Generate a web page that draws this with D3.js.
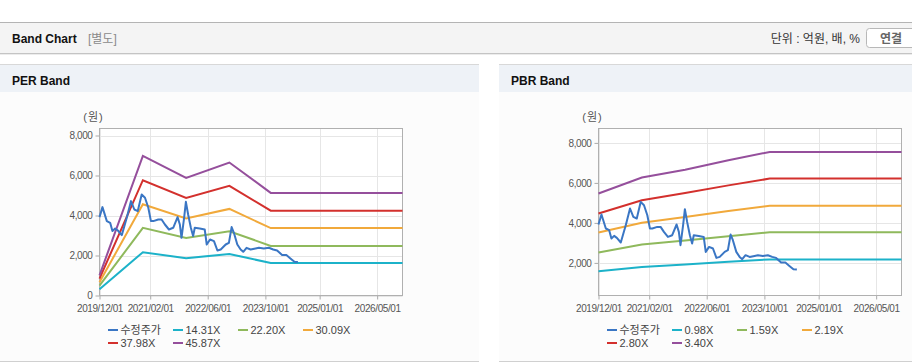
<!DOCTYPE html>
<html>
<head>
<meta charset="utf-8">
<script src="https://cdn.jsdelivr.net/npm/d3@7"></script>
<style>
body { margin: 0; background: #fff; }
svg { display: block; font-family: "Liberation Sans", "Noto Sans CJK KR", sans-serif; }
</style>
</head>
<body>
<svg width="912" height="364"></svg>
<script>
// x axis ticks shown on both charts
const xTicks = ['2019/12/01', '2021/02/01', '2022/06/01', '2023/10/01', '2025/01/01', '2026/05/01'];
const yTicksPer = [0, 2000, 4000, 6000, 8000];
const yTicksPbr = [2000, 4000, 6000, 8000];

// adjusted price (수정주가), same on both charts
const priceDates = ['2019/12/01', '2019/12/26', '2020/02/01', '2020/02/29', '2020/03/19', '2020/04/11', '2020/05/04',
  '2020/06/06', '2020/07/18', '2020/08/23', '2020/09/20', '2020/10/19', '2020/11/21', '2020/12/19', '2021/01/16',
  '2021/02/07', '2021/02/27', '2021/04/10', '2021/05/08', '2021/06/05', '2021/07/09', '2021/08/14', '2021/09/20',
  '2021/10/09', '2021/10/23', '2021/11/14', '2021/11/29', '2021/12/18', '2022/01/10', '2022/01/29', '2022/02/12',
  '2022/03/26', '2022/05/07', '2022/05/24', '2022/06/21', '2022/07/24', '2022/08/22', '2022/09/19', '2022/10/31',
  '2022/11/27', '2022/12/20', '2023/01/08', '2023/02/06', '2023/03/06', '2023/03/28', '2023/04/25', '2023/05/29',
  '2023/07/10', '2023/08/07', '2023/09/18', '2023/10/30', '2023/12/06', '2024/01/08', '2024/02/19', '2024/03/26',
  '2024/04/29', '2024/06/02', '2024/07/01'];
const priceValues = [3920, 4420, 3720, 3635, 3220, 3350, 3250,
  3020, 3885, 4720, 4300, 4220, 5050, 4885, 4385,
  3720, 3720, 3800, 3800, 3550, 3300, 3385, 3920,
  3550, 2885, 3885, 4685, 4050, 3385, 2970, 3385,
  3350, 3300, 2550, 2800, 2720, 2250, 2300, 2550,
  2635, 3420, 3135, 2550, 2300, 2185, 2385, 2300,
  2350, 2385, 2350, 2385, 2300, 2250, 2020, 2020,
  1850, 1685, 1670];

// PER bands
const perDates = ['2019/12/01', '2020/12/01', '2021/12/01', '2022/12/01', '2023/11/15', '2026/12/01'];
const perNames = ['14.31X', '22.20X', '30.09X', '37.98X', '45.87X'];
const per1431 = [315, 2165, 1865, 2080, 1620, 1620];
const per2220 = [490, 3380, 2880, 3215, 2480, 2480];
const per3009 = [660, 4565, 3850, 4330, 3370, 3370];
const per3798 = [840, 5765, 4880, 5480, 4240, 4240];
const per4587 = [1010, 6980, 5880, 6650, 5130, 5130];

// PBR bands
const pbrDates = ['2019/12/01', '2020/12/01', '2021/12/01', '2022/12/01', '2023/11/15', '2026/12/01'];
const pbrNames = ['0.98X', '1.59X', '2.19X', '2.80X', '3.40X'];
const pbr098 = [1585, 1800, 1920, 2057, 2175, 2175];
const pbr159 = [2520, 2920, 3115, 3337, 3530, 3530];
const pbr219 = [3520, 4010, 4290, 4596, 4860, 4860];
const pbr280 = [4470, 5130, 5490, 5876, 6215, 6215];
const pbr340 = [5470, 6270, 6660, 7135, 7550, 7550];

const colors = ['#3a76c4', '#1cb2c9', '#8fb95c', '#f1a93b', '#d3302d', '#954f9c'];

const parse = d3.timeParse('%Y/%m/%d');
const svg = d3.select('svg');

// top header
svg.append('rect').attr('x', 0).attr('y', 23).attr('width', 912).attr('height', 30).attr('fill', '#f4f4f4');
svg.append('line').attr('x1', 0).attr('x2', 912).attr('y1', 22.5).attr('y2', 22.5).attr('stroke', '#b4b4b4');
svg.append('line').attr('x1', 0).attr('x2', 912).attr('y1', 53.5).attr('y2', 53.5).attr('stroke', '#c4c4c4');
svg.append('line').attr('x1', 0).attr('x2', 912).attr('y1', 54.5).attr('y2', 54.5).attr('stroke', '#ececec');
svg.append('text').attr('x', 12).attr('y', 42.5).attr('font-size', 12).attr('font-weight', 'bold')
   .attr('fill', '#111').text('Band Chart');
svg.append('text').attr('x', 88).attr('y', 42.5).attr('font-size', 12).attr('fill', '#8a8a8a').text('[별도]');
svg.append('text').attr('x', 860).attr('y', 42.5).attr('font-size', 12).attr('fill', '#333')
   .attr('text-anchor', 'end').text('단위 : 억원, 배, %');
svg.append('rect').attr('x', 866.5).attr('y', 28.5).attr('width', 60).attr('height', 19).attr('rx', 3)
   .attr('fill', '#fff').attr('stroke', '#b8b8b8');
svg.append('text').attr('x', 891).attr('y', 42.5).attr('font-size', 12).attr('font-weight', 'bold')
   .attr('fill', '#666').attr('text-anchor', 'middle').text('연결');

function drawPanel(o) {
  const g = svg.append('g');
  g.append('rect').attr('x', o.px).attr('y', 64).attr('width', o.pw).attr('height', 298).attr('fill', '#fcfcfc');
  g.append('rect').attr('x', o.px).attr('y', 65).attr('width', o.pw).attr('height', 27).attr('fill', '#eef2f7');
  g.append('line').attr('x1', o.px).attr('x2', o.px + o.pw).attr('y1', 64.5).attr('y2', 64.5).attr('stroke', '#d8d8d8');
  g.append('line').attr('x1', o.px).attr('x2', o.px + o.pw).attr('y1', 361.5).attr('y2', 361.5).attr('stroke', '#d0d0d0');
  g.append('text').attr('x', o.px + 12).attr('y', 84.5).attr('font-size', 12).attr('font-weight', 'bold')
   .attr('fill', '#111').text(o.title);

  const top = 128.5, bottom = 295.5;
  const x = d3.scaleTime().domain([parse('2019/12/01'), parse('2026/12/01')]).range([o.left, o.right]);
  const y = d3.scaleLinear().domain(o.yDomain).range([bottom, top]);

  g.append('rect').attr('x', o.left).attr('y', top).attr('width', o.right - o.left)
   .attr('height', bottom - top).attr('fill', '#fff');

  g.append('text').attr('x', o.left - 6).attr('y', 121).attr('font-size', 11).attr('fill', '#555')
   .attr('text-anchor', 'middle').attr('letter-spacing', '1px').text('(원)');

  // grid
  g.append('g').selectAll('line').data(xTicks).join('line')
   .attr('x1', d => Math.round(x(parse(d))) + 0.5).attr('x2', d => Math.round(x(parse(d))) + 0.5)
   .attr('y1', top).attr('y2', bottom).attr('stroke', '#e6e6e6');
  g.append('g').selectAll('line').data(o.yTicks).join('line')
   .attr('x1', o.left).attr('x2', o.right)
   .attr('y1', d => Math.round(y(d)) + 0.5).attr('y2', d => Math.round(y(d)) + 0.5).attr('stroke', '#e6e6e6');

  // axes
  const xAxis = g.append('g').attr('transform', `translate(0,${bottom})`)
   .call(d3.axisBottom(x).tickValues(xTicks.map(parse)).tickFormat(d3.timeFormat('%Y/%m/%d'))
     .tickSize(4).tickSizeOuter(0));
  const yAxis = g.append('g').attr('transform', `translate(${o.left},0)`)
   .call(d3.axisLeft(y).tickValues(o.yTicks).tickFormat(d3.format(',')).tickSize(4).tickSizeOuter(0));
  [xAxis, yAxis].forEach(a => {
    a.select('.domain').remove();
    a.selectAll('line').attr('stroke', '#aaa');
    a.selectAll('text').attr('fill', '#555').attr('font-size', 10).attr('letter-spacing', '-0.4px')
     .attr('font-family', '"Liberation Sans", sans-serif');
  });
  xAxis.selectAll('text').attr('dy', '0.9em');

  g.append('rect').attr('x', o.left).attr('y', top).attr('width', o.right - o.left)
   .attr('height', bottom - top).attr('fill', 'none').attr('stroke', '#b0b0b0');

  // bands
  const line = d3.line().x(d => x(d[0])).y(d => y(d[1]));
  const dates = o.bandDates.map(parse);
  o.bands.forEach((vals, i) => {
    g.append('path').datum(dates.map((d, k) => [d, vals[k]]))
     .attr('d', line).attr('fill', 'none').attr('stroke', colors[i + 1]).attr('stroke-width', 2);
  });
  // price
  g.append('path').datum(priceDates.map((d, k) => [parse(d), priceValues[k]]))
   .attr('d', line).attr('fill', 'none').attr('stroke', colors[0]).attr('stroke-width', 2)
   .attr('stroke-linejoin', 'round');

  // legend
  const names = ['수정주가'].concat(o.names);
  const lg = g.append('g').selectAll('g').data(names).join('g')
   .attr('transform', (d, i) => `translate(${o.left + 8.5 + (i % 4) * 65},${330 + Math.floor(i / 4) * 13})`);
  lg.append('line').attr('x1', 0).attr('x2', 10).attr('y1', 0).attr('y2', 0)
   .attr('stroke', (d, i) => colors[i]).attr('stroke-width', 2);
  lg.append('text').attr('x', 12.5).attr('y', 4).attr('font-size', 11).attr('fill', '#444').text(d => d);
}

drawPanel({
  px: 0, pw: 479, title: 'PER Band', left: 99.5, right: 402.5,
  yDomain: [0, 8350], yTicks: yTicksPer,
  bandDates: perDates, bands: [per1431, per2220, per3009, per3798, per4587], names: perNames
});
drawPanel({
  px: 499, pw: 413, title: 'PBR Band', left: 598.5, right: 901.5,
  yDomain: [370, 8720], yTicks: yTicksPbr,
  bandDates: pbrDates, bands: [pbr098, pbr159, pbr219, pbr280, pbr340], names: pbrNames
});
</script>
</body>
</html>
